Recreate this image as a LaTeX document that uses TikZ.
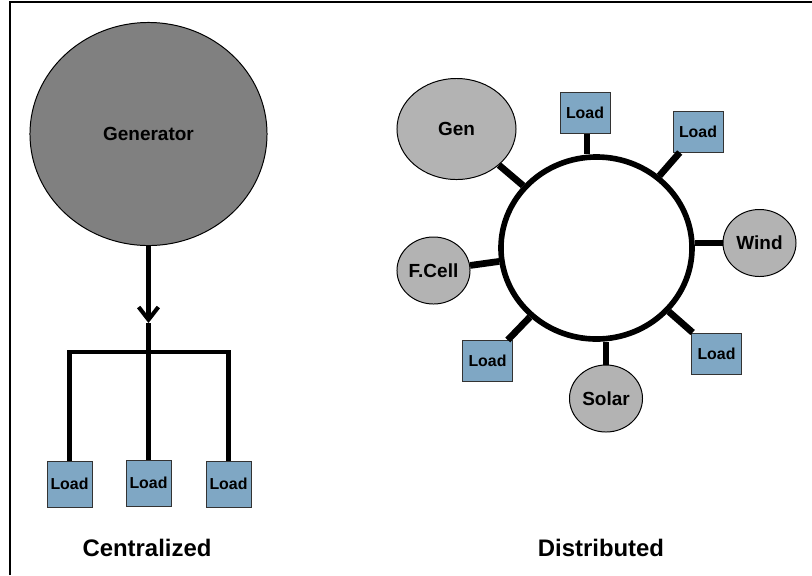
\documentclass[tikz,border=0pt]{standalone}
\usepackage{fontspec}
\setmainfont{Liberation Sans}
\usepackage{tikz}
\usetikzlibrary{arrows.meta,shapes.geometric}

\definecolor{loadblue}{RGB}{127,167,196}
\definecolor{gengray}{RGB}{128,128,128}
\definecolor{srcgray}{RGB}{179,179,179}

\begin{document}
\begin{tikzpicture}[x=0.025cm, y=-0.025cm, every node/.style={font=\bfseries},
	src/.style={draw, ellipse, fill=srcgray, line width=0.7pt, inner sep=0pt, minimum width=1.825cm, minimum height=1.675cm, font=\fontsize{13.5}{15}\selectfont\bfseries},
	ld/.style={draw=black!80, fill=loadblue, line width=0.7pt, inner sep=0pt, font=\fontsize{11.3}{13}\selectfont\bfseries},
	wire/.style={line width=2.9pt},
	spoke/.style={line width=4.8pt},
	title/.style={font=\fontsize{17}{19}\selectfont\bfseries}]
	\useasboundingbox (0,0) rectangle (812,575);
	\draw[line width=1.5pt] (10,575) -- (10,2) -- (812,2);
	% centralized
	\node[draw, ellipse, fill=gengray, line width=0.7pt, minimum width=5.925cm, minimum height=5.575cm, font=\fontsize{13.5}{15}\selectfont\bfseries] (gen) at (148.5,134) {Generator};
	\node[ld, minimum width=1.125cm, minimum height=1.15cm] (ld1) at (69.5,484) {Load};
	\node[ld, minimum width=1.125cm, minimum height=1.15cm] (ld2) at (148.5,483) {Load};
	\node[ld, minimum width=1.125cm, minimum height=1.15cm] (ld3) at (228.5,484) {Load};
	\coordinate (arr) at (148.5,323);
	\coordinate (bus) at (148.5,352);
	\draw[wire, -{Straight Barb[length=9pt, width=14pt]}] (gen) -- (arr);
	\draw[wire] (arr) -- (ld2);
	\draw[wire] (ld1) -- (ld1 |- bus) -- (ld3 |- bus) -- (ld3);
	\node[title] (cen) at (147,548) {Centralized};
	% distributed
	\node[draw, ellipse, line width=4pt, minimum width=4.775cm, minimum height=4.55cm] (ring) at (596.5,248) {};
	\node[src, minimum width=2.975cm, minimum height=2.525cm] (g) at (456.5,129) {Gen};
	\node[src] (wind) at (759.5,243) {Wind};
	\node[src] (solar) at (606,398.5) {Solar};
	\node[src] (fc) at (433.5,270.5) {F.Cell};
	\node[ld, minimum width=1.25cm, minimum height=1.025cm] (la) at (585,112.5) {Load};
	\node[ld, minimum width=1.25cm, minimum height=1.025cm] (lb) at (698,131.5) {Load};
	\node[ld, minimum width=1.25cm, minimum height=1.025cm] (lc) at (716.5,353.5) {Load};
	\node[ld, minimum width=1.25cm, minimum height=1.025cm] (ldd) at (487.5,361) {Load};
	\foreach \n in {g, fc, lb, lc, ldd} {\draw[spoke] (\n) -- (ring);}
	\draw[spoke] (la.south -| 587,0) -- (ring.north -| 587,0);
	\draw[spoke] (wind.west) -- (wind.west -| ring.east);
	\draw[spoke] (solar.north) -- (solar.north |- ring.south);
	\node[title] (dis) at (601,548) {Distributed};
\end{tikzpicture}
\end{document}
